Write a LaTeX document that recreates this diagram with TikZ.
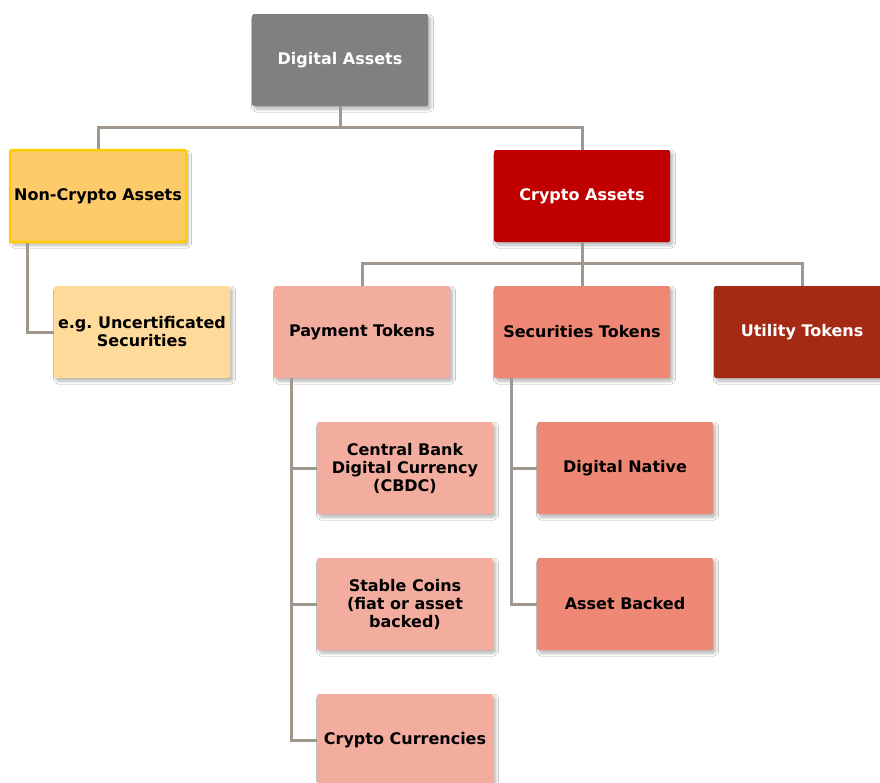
\documentclass[tikz,border=0pt]{standalone}
\usepackage{fontspec}
\setmainfont{DejaVu Sans}
\frenchspacing
\usetikzlibrary{shadows.blur}
\definecolor{lnc}{HTML}{A0978F}
\definecolor{gry}{HTML}{808080}
\definecolor{ylw}{HTML}{FDCB69}
\definecolor{ylwb}{HTML}{FFCC00}
\definecolor{ylwl}{HTML}{FEDB9A}
\definecolor{red1}{HTML}{C00000}
\definecolor{pink1}{HTML}{F2AD9F}
\definecolor{sal1}{HTML}{EE8773}
\definecolor{brn1}{HTML}{A52A14}
\begin{document}
\begin{tikzpicture}[x=1pt,y=-1pt,
  box/.style={rectangle, rounded corners=1.5pt, minimum width=176pt, minimum height=92pt,
    inner sep=0pt, align=center, font=\fontsize{16}{18}\selectfont\bfseries,
    blur shadow={shadow xshift=2.5pt, shadow yshift=-3pt, shadow blur steps=8, shadow blur radius=3pt, shadow opacity=30}},
  conn/.style={draw=lnc, line width=3pt}]
\clip (0,0) rectangle (880,782);
\fill[white] (0,0) rectangle (880,782);
\node[box, fill=gry, text=white] (da) at (340,60) {Digital Assets};
\node[box, fill=ylw, draw=ylwb, line width=2.5pt] (nc) at (98,196) {Non-Crypto Assets};
\node[box, fill=red1, text=white] (ca) at (582,196) {Crypto Assets};
\node[box, fill=ylwl] (eg) at (142,332) {e.g. Uncertificated\\Securities};
\node[box, fill=pink1] (pt) at (362,332) {Payment Tokens};
\node[box, fill=sal1] (st) at (582,332) {Securities Tokens};
\node[box, fill=brn1, text=white] (ut) at (802,332) {Utility Tokens};
\node[box, fill=pink1] (cb) at (405,468) {Central Bank\\Digital Currency\\(CBDC)};
\node[box, fill=pink1] (sc) at (405,604) {Stable Coins\\(fiat or asset\\backed)};
\node[box, fill=pink1] (cc) at (405,740) {Crypto Currencies};
\node[box, fill=sal1] (dn) at (625,468) {Digital Native};
\node[box, fill=sal1] (ab) at (625,604) {Asset Backed};
\begin{scope}[conn]
\draw (da.south) -- ++(0,21) -| (nc.north);
\draw (da.south) -- ++(0,21) -| (ca.north);
\draw ([xshift=19pt]nc.south west) |- (eg.west);
\draw (ca.south) -- ++(0,21) -| (pt.north);
\draw (ca.south) -- (st.north);
\draw (ca.south) -- ++(0,21) -| (ut.north);
\draw ([xshift=18pt]pt.south west) |- (cb.west);
\draw ([xshift=18pt]pt.south west) |- (sc.west);
\draw ([xshift=18pt]pt.south west) |- (cc.west);
\draw ([xshift=18pt]st.south west) |- (dn.west);
\draw ([xshift=18pt]st.south west) |- (ab.west);
\end{scope}
\end{tikzpicture}
\end{document}
